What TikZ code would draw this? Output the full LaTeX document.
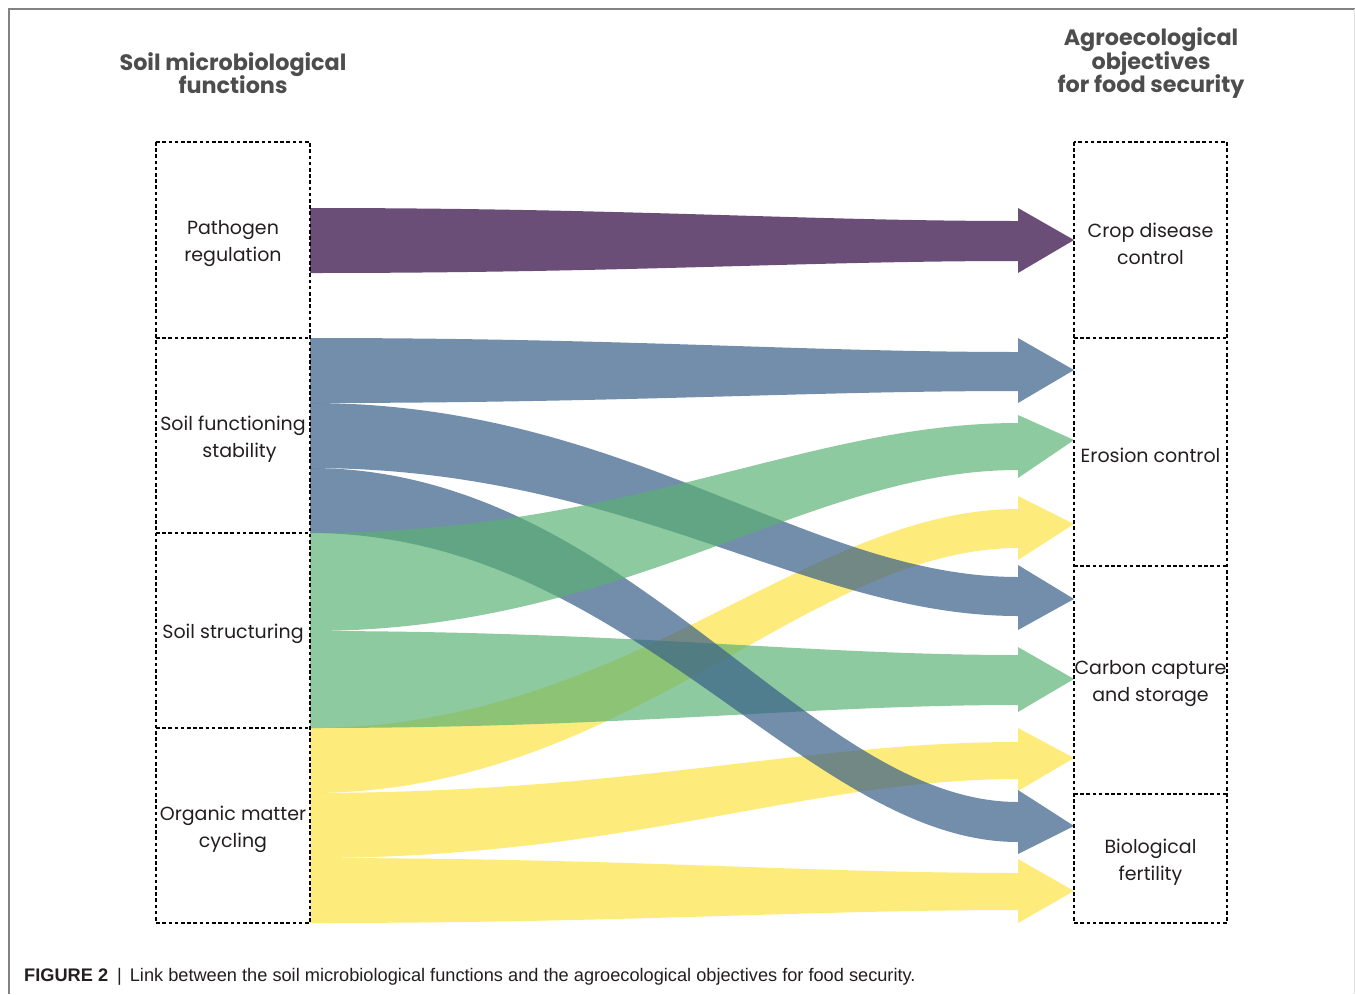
\documentclass[tikz,border=0pt]{standalone}
\usepackage{fontspec}
\setmainfont{Poppins}
\newfontfamily\capfont{Liberation Sans}
\setlength{\lineskiplimit}{-30pt}
\definecolor{vpurple}{RGB}{106,78,119}
\definecolor{vblue}{RGB}{56,95,136}
\definecolor{vgreen}{RGB}{89,177,115}
\definecolor{vyellow}{RGB}{253,223,37}
\definecolor{labelc}{RGB}{35,31,32}
\definecolor{titlec}{RGB}{77,77,77}
\definecolor{framec}{RGB}{130,130,130}
\definecolor{framelight}{RGB}{225,225,225}
\newcommand\flowband[8]{%
  \fill[#1] (310,#2) .. controls (629,#2) and (806,#4) .. (1018,#4) -- (1018,#6) -- (1074,#7) -- (1018,#8) -- (1018,#5) .. controls (806,#5) and (629,#3) .. (310,#3) -- cycle;}
\begin{document}
\begin{tikzpicture}[x=1pt,y=-1pt,
  boxn/.style={draw=none, inner sep=0, outer sep=0},
  boxline/.style={draw=black, line width=2.6, dash pattern=on 3.6 off 2.6},
  lbl/.style={align=center, font=\fontsize{19}{27}\selectfont, text=labelc, inner sep=0, yshift=-3.5},
  ttl/.style={align=center, font=\fontsize{22.3}{23.5}\selectfont\bfseries, text=titlec, inner sep=0},
  fblue/.style={fill=vblue, fill opacity=0.7},
  fgreen/.style={fill=vgreen, fill opacity=0.68},
  fyellow/.style={fill=vyellow, fill opacity=0.6},
  fpurple/.style={fill=vpurple}]
\useasboundingbox (0,0) rectangle (1355,994);
\fill[white] (0,0) rectangle (1355,994);
% frame
\draw[line width=1.5, draw=framec] (9,994) -- (9,9) -- (1355,9);
\draw[line width=1, draw=framelight] (1354,9) -- (1354,994);
% titles
\node[ttl] (lt) at (233,73) {Soil microbiological\\functions};
\node[ttl] (rt) at (1151,63.5) {Agroecological\\objectives\\for food security};
% flows
\flowband{fyellow}{728}{793}{509}{548}{496}{524}{560}
\flowband{fyellow}{793}{858}{742}{779}{728}{758}{791}
\flowband{fyellow}{858}{923}{873}{910}{859}{891}{923}
\flowband{fgreen}{631}{728}{655}{705}{647}{679}{712}
\flowband{fblue}{338}{403}{352}{391}{338}{370}{403}
\flowband{fblue}{403}{468}{577}{616}{565}{599}{630}
\flowband{fblue}{468}{533}{802}{842}{790}{826}{854}
\flowband{fgreen}{533}{631}{423}{470}{415}{440}{478}
\flowband{fpurple}{208}{273}{221}{261}{208}{240}{273}
% left boxes
\node[boxn, minimum width=154, minimum height=196] (pr) at (233,240) {};
\node[boxn, minimum width=154, minimum height=195] (sfs) at (233,435.5) {};
\node[boxn, minimum width=154, minimum height=195] (ss) at (233,630.5) {};
\node[boxn, minimum width=154, minimum height=195] (omc) at (233,825.5) {};
% right boxes
\node[boxn, minimum width=153, minimum height=196] (cdc) at (1150.5,240) {};
\node[boxn, minimum width=153, minimum height=228] (ec) at (1150.5,452) {};
\node[boxn, minimum width=153, minimum height=228] (ccs) at (1150.5,680) {};
\node[boxn, minimum width=153, minimum height=129] (bf) at (1150.5,858.5) {};
% box outlines
\draw[boxline] (pr.north west) rectangle (omc.south east);
\draw[boxline] (pr.south west) -- (pr.south east);
\draw[boxline] (sfs.south west) -- (sfs.south east);
\draw[boxline] (ss.south west) -- (ss.south east);
\draw[boxline] (cdc.north west) rectangle (bf.south east);
\draw[boxline] (cdc.south west) -- (cdc.south east);
\draw[boxline] (ec.south west) -- (ec.south east);
\draw[boxline] (ccs.south west) -- (ccs.south east);
% labels
\node[lbl] (prt) at (pr.center) {Pathogen\\regulation};
\node[lbl] (sfst) at (sfs.center) {Soil functioning\\\hspace*{13pt}stability};
\node[lbl] (sst) at (ss.center) {Soil structuring};
\node[lbl] (omct) at (omc.center) {Organic matter\\cycling};
\node[lbl] (cdct) at (cdc.center) {Crop disease\\control};
\node[lbl] (ect) at (ec.center) {Erosion control};
\node[lbl] (ccst) at (ccs.center) {Carbon capture\\and storage};
\node[lbl] (bft) at (bf.center) {Biological\\fertility};
% caption
\node[anchor=west, inner sep=0, text=labelc, font=\capfont\fontsize{18.2}{20}\selectfont] (cap) at (24,977) {\textbf{FIGURE 2}\hspace{9pt}|\hspace{8pt}Link between the soil microbiological functions and the agroecological objectives for food security.};
\end{tikzpicture}
\end{document}
